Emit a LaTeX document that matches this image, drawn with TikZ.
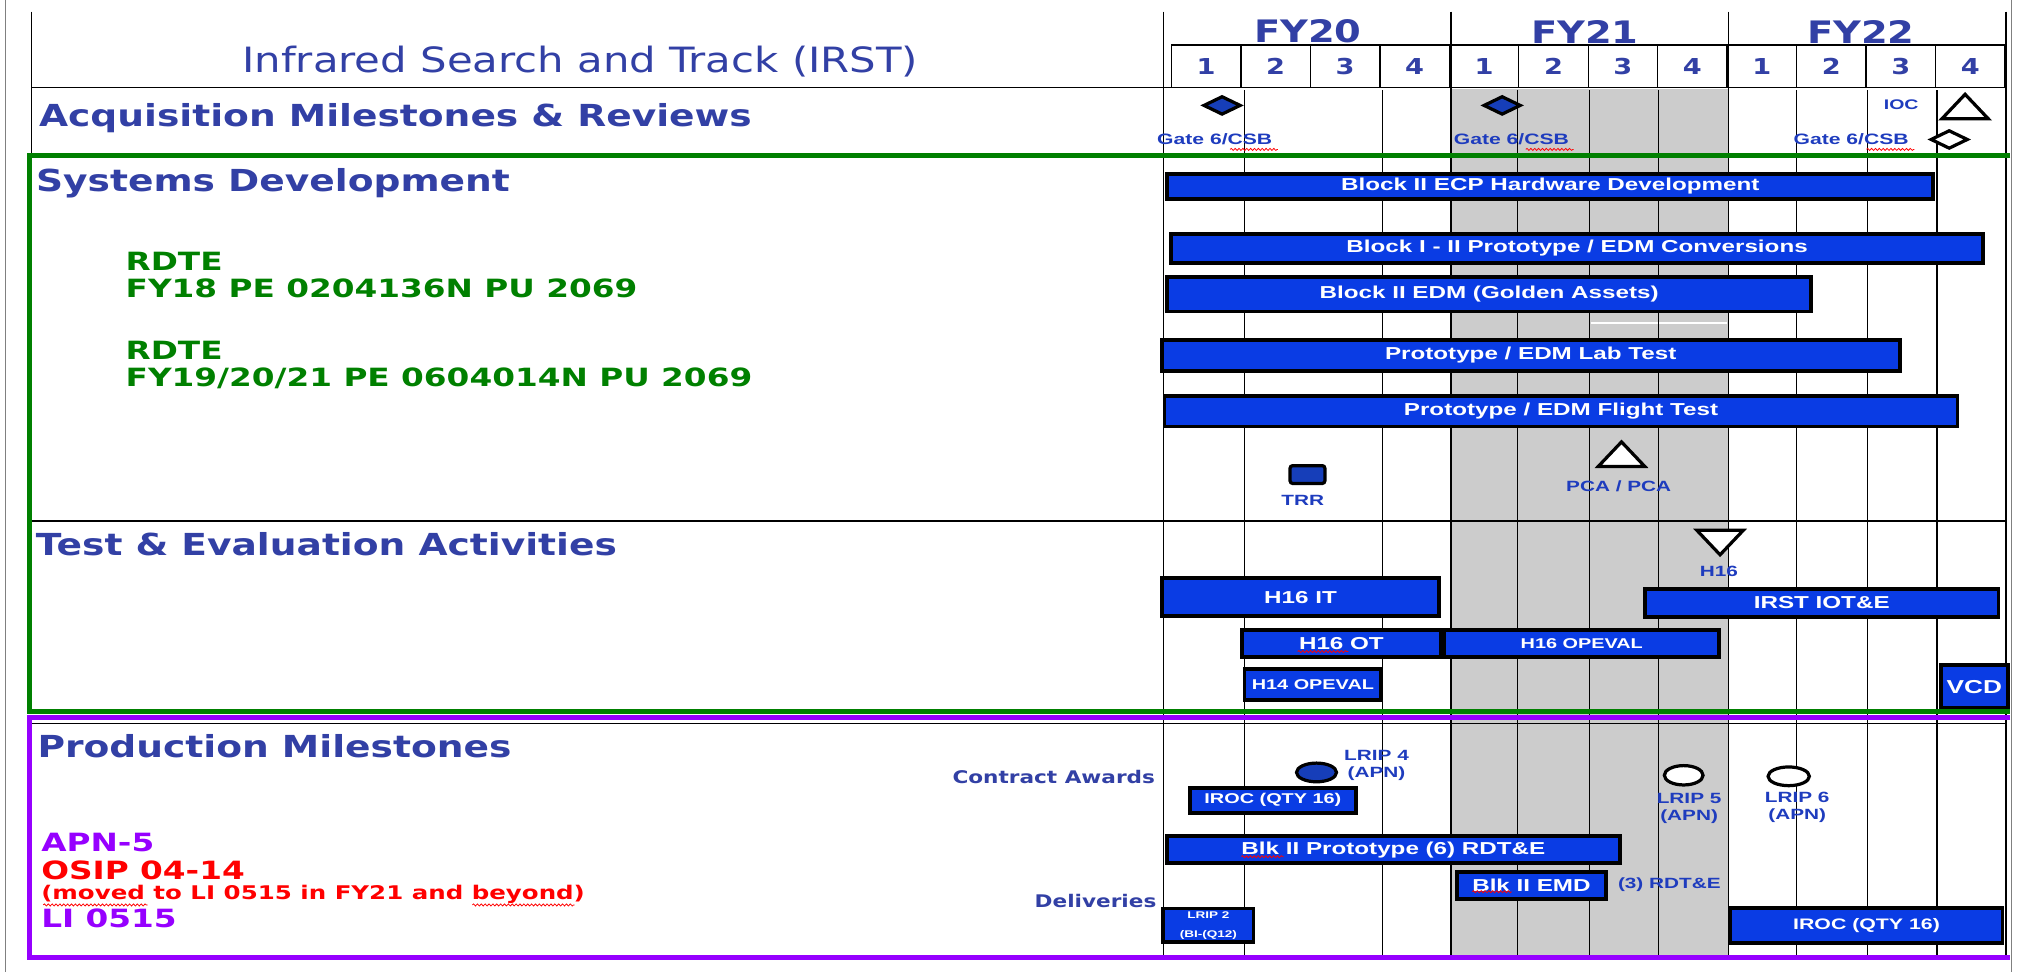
\documentclass[tikz,border=0pt]{standalone}
\usepackage{fontspec}
\usetikzlibrary{shapes.geometric}
\usetikzlibrary{decorations.pathmorphing}

\newfontfamily\headfont[FakeStretch=1.24]{DejaVu Sans}
\newfontfamily\titlefont[FakeStretch=1.2]{DejaVu Sans}
\newfontfamily\fundfont[FakeStretch=1.3]{DejaVu Sans}
\newfontfamily\barfont[FakeStretch=1.4]{Liberation Sans}

\definecolor{hdblue}{RGB}{50,64,165}
\definecolor{lblblue}{RGB}{30,60,190}
\definecolor{barblue}{RGB}{10,60,228}
\definecolor{msblue}{RGB}{22,62,185}
\definecolor{sdgreen}{RGB}{0,128,0}
\definecolor{prodpurple}{RGB}{150,0,255}
\definecolor{fygray}{RGB}{204,204,204}

\begin{document}
\begin{tikzpicture}[x=1pt,y=-1pt,
  gridline/.style={draw=black, line width=1pt},
  qcell/.style={draw=black, line width=1pt, minimum width=53.8pt, minimum height=32.8pt, inner sep=0pt, text=hdblue, font=\headfont\bfseries\fontsize{17}{19}\selectfont},
  heading/.style={anchor=west, inner sep=0pt, text=hdblue, font=\headfont\bfseries\fontsize{23.5}{25}\selectfont},
  fund/.style={anchor=west, inner sep=0pt, font=\fundfont\bfseries\fontsize{19.5}{21}\selectfont},
  gbar/.style={draw=black, line width=3pt, fill=barblue, text=white, inner sep=0pt, font=\barfont\bfseries\fontsize{13.4}{15}\selectfont},
  smallbar/.style={gbar, font=\barfont\bfseries\fontsize{11}{13}\selectfont},
  lbl/.style={inner sep=0pt, text=lblblue, align=center, font=\barfont\bfseries\fontsize{11.5}{13.2}\selectfont},
  gate/.style={inner sep=0pt, text=lblblue, font=\barfont\bfseries\fontsize{11.7}{13}\selectfont},
  milestone/.style={draw=black, line width=2.5pt, fill=msblue, inner sep=0pt},
  squiggle/.style={draw=red, line width=0.6pt, decorate, decoration={snake, amplitude=0.8pt, segment length=3pt}},
]
\useasboundingbox (0,0) rectangle (1568,753.4);

% FY21 shading
\fill [fygray] (1124.7,69) rectangle (1339.8,742);
\draw [white, line width=1.5pt] (1232.8,250.1) -- (1338.4,250.1);

% page edges
\draw [gray, line width=0.8pt] (4.6,0) -- (4.6,753.4) (1559.4,0) -- (1559.4,753.4);

% table lines
\draw [gridline] (24.3,9) -- (24.3,120) (902,9) -- (902,742) (1124.7,9) -- (1124.7,742)
  (1339.8,9) -- (1339.8,742) (1554.7,9) -- (1554.7,742);
\draw [gridline] (964.5,70) -- (964.5,742) (1071.4,70) -- (1071.4,742)
  (1176.2,70) -- (1176.2,742) (1232,70) -- (1232,742) (1285.3,70) -- (1285.3,742)
  (1392.3,70) -- (1392.3,742) (1447.7,70) -- (1447.7,742) (1501.3,70) -- (1501.3,742);
\draw [gridline] (24.3,67.7) -- (1554.7,67.7) (24.3,403.9) -- (1554.7,403.9)
  (24.3,560.6) -- (1554.7,560.6);

% header
\node (title) [text=hdblue, font=\titlefont\fontsize{27}{29}\selectfont] at (449.7,47.5) {Infrared Search and Track (IRST)};
\node (fy20) [text=hdblue, font=\headfont\bfseries\fontsize{24}{26}\selectfont] at (1013.7,24.5) {FY20};
\node (fy21) [text=hdblue, font=\headfont\bfseries\fontsize{24}{26}\selectfont] at (1228.4,24.5) {FY21};
\node (fy22) [text=hdblue, font=\headfont\bfseries\fontsize{24}{26}\selectfont] at (1442.3,24.5) {FY22};
\node (q1) [qcell] at (934.9,51.3) {1};
\node (q2) [qcell] at (988.7,51.3) {2};
\node (q3) [qcell] at (1042.6,51.3) {3};
\node (q4) [qcell] at (1096.4,51.3) {4};
\node (q5) [qcell] at (1150.2,51.3) {1};
\node (q6) [qcell] at (1204.1,51.3) {2};
\node (q7) [qcell] at (1257.9,51.3) {3};
\node (q8) [qcell] at (1311.7,51.3) {4};
\node (q9) [qcell] at (1365.6,51.3) {1};
\node (q10) [qcell] at (1419.4,51.3) {2};
\node (q11) [qcell] at (1473.2,51.3) {3};
\node (q12) [qcell] at (1527.1,51.3) {4};

% row headings
\node (acq) [heading] at (30.1,91.7) {Acquisition Milestones \& Reviews};
\node (sysdev) [heading] at (27.8,142.1) {Systems Development};
\node (tne) [heading] at (27.7,421.8) {Test \& Evaluation Activities};
\node (prod) [heading] at (28.9,578.2) {Production Milestones};

\node (rdte1) [fund, text=sdgreen] at (97.2,202.3) {RDTE};
\node (pe1) [fund, text=sdgreen] at (97.2,223.5) {FY18 PE 0204136N PU 2069};
\node (rdte2) [fund, text=sdgreen] at (97.2,271.3) {RDTE};
\node (pe2) [fund, text=sdgreen] at (97.2,293.3) {FY19/20/21 PE 0604014N PU 2069};

\node (apn) [fund, text=prodpurple] at (31.8,653.1) {APN-5};
\node (osip) [fund, text=red] at (31.8,674.3) {OSIP 04-14};
\node (moved) [fund, text=red, font=\fundfont\bfseries\fontsize{14.6}{16}\selectfont] at (31.8,693.2) {(moved to LI 0515 in FY21 and beyond)};
\node (li) [fund, text=prodpurple] at (31.8,711.8) {LI 0515};

\node (awards) [anchor=east, inner sep=0pt, text=hdblue, font=\headfont\bfseries\fontsize{13.5}{15}\selectfont] at (895.4,602) {Contract Awards};
\node (deliv) [anchor=east, inner sep=0pt, text=hdblue, font=\headfont\bfseries\fontsize{13.5}{15}\selectfont] at (896.5,698.3) {Deliveries};

% acquisition milestones
\node (gate1) [milestone, diamond, minimum width=29pt, minimum height=14.5pt] at (947.2,81.7) {};
\node (gate2) [milestone, diamond, minimum width=29pt, minimum height=14.5pt] at (1164.3,81.7) {};
\node (gate3) [milestone, diamond, fill=white, minimum width=29pt, minimum height=14.5pt] at (1510.8,108.1) {};
\node (gate1txt) [gate] at (941.5,107.5) {Gate 6/CSB};
\node (gate2txt) [gate] at (1171.5,107.5) {Gate 6/CSB};
\node (gate3txt) [gate] at (1434.8,107.5) {Gate 6/CSB};
\node (ioctxt) [lbl, font=\barfont\bfseries\fontsize{10.8}{12}\selectfont] at (1473.6,81.4) {IOC};
\coordinate (ioc) at (1523.1,82.6);
\draw [milestone, fill=white] (ioc) ++(0,-9.5) -- ++(18,19) -- ++(-36,0) -- cycle;

% systems development
\node (ecp) [gbar, minimum width=593.8pt, minimum height=19.4pt] at (1201.6,144.3) {Block II ECP Hardware Development};
\node (conv) [gbar, minimum width=629pt, minimum height=22.8pt] at (1222.4,192.5) {Block I - II Prototype / EDM Conversions};
\node (golden) [gbar, minimum width=499pt, minimum height=26.7pt] at (1154.2,228.1) {Block II EDM (Golden Assets)};
\node (lab) [gbar, minimum width=572pt, minimum height=24.2pt] at (1186.4,275.3) {Prototype / EDM Lab Test};
\node (flight) [gbar, minimum width=614.6pt, minimum height=23.3pt] at (1209.9,318.9) {Prototype / EDM Flight Test};
\node (trr) [milestone, rounded corners=2pt, minimum width=27pt, minimum height=13.8pt] at (1013.4,367.8) {};
\node (trrtxt) [lbl] at (1009.8,387.5) {TRR};
\coordinate (pca) at (1256.8,352);
\draw [milestone, fill=white] (pca) ++(0,-9.5) -- ++(18,19) -- ++(-36,0) -- cycle;
\node (pcatxt) [lbl] at (1254.6,377.2) {PCA / PCA};

% test and evaluation
\coordinate (h16) at (1333.2,420.5);
\draw [milestone, fill=white] (h16) ++(0,9.5) -- ++(18,-19) -- ++(-36,0) -- cycle;
\node (h16txt) [lbl] at (1332.3,442.5) {H16};
\node (h16it) [gbar, minimum width=215pt, minimum height=29.8pt] at (1008,462.8) {H16 IT};
\node (iot) [gbar, minimum width=274pt, minimum height=22.3pt] at (1412,467.4) {IRST IOT\&E};
\node (h16ot) [gbar, minimum width=153.7pt, minimum height=20.7pt] at (1039.7,498.9) {H16 OT};
\node (h16op) [smallbar, minimum width=213pt, minimum height=20.7pt] at (1226,498.9) {H16 OPEVAL};
\node (h14op) [smallbar, minimum width=106pt, minimum height=24.6pt] at (1017.6,530.5) {H14 OPEVAL};
\node (vcd) [gbar, minimum width=52.4pt, minimum height=33.2pt, font=\barfont\bfseries\fontsize{14.5}{16}\selectfont] at (1530.3,532.2) {VCD};

% production
\node (lrip4) [milestone, ellipse, minimum width=31pt, minimum height=14.5pt] at (1020.4,598.7) {};
\node (lrip4txt) [lbl] at (1066.9,593.6) {LRIP 4\\(APN)};
\node (lrip5) [milestone, ellipse, fill=white, minimum width=30pt, minimum height=15pt] at (1305,600.9) {};
\node (lrip5txt) [lbl] at (1309.2,626.8) {LRIP 5\\(APN)};
\node (lrip6) [milestone, ellipse, fill=white, minimum width=32pt, minimum height=14.5pt] at (1386.4,601.7) {};
\node (lrip6txt) [lbl] at (1393,625.9) {LRIP 6\\(APN)};
\node (iroc1) [smallbar, minimum width=128.8pt, minimum height=19.7pt] at (986.6,620.3) {IROC (QTY 16)};
\node (proto6) [gbar, minimum width=350.6pt, minimum height=20.7pt] at (1080,658.5) {Blk II Prototype (6) RDT\&E};
\node (emd) [gbar, minimum width=114.9pt, minimum height=20.8pt] at (1187,686.2) {Blk II EMD};
\node (rdte3) [lbl] at (1293.9,685.9) {(3) RDT\&E};
\node (lrip2) [gbar, align=center, minimum width=69.9pt, minimum height=26pt, font=\barfont\bfseries\fontsize{7.5}{14.5}\selectfont] at (936.6,717.2) {LRIP 2\\(BI-(Q12)};
\node (iroc2) [smallbar, minimum width=210.8pt, minimum height=27.2pt, font=\barfont\bfseries\fontsize{11.8}{13}\selectfont] at (1446.7,717.3) {IROC (QTY 16)};

% spelling marks
\draw [squiggle] (953.4,115.8) -- (990.5,115.8);
\draw [squiggle] (1182.6,115.8) -- (1219.7,115.8);
\draw [squiggle] (1446.7,115.8) -- (1483.8,115.8);
\draw [squiggle] (1005.8,505) -- (1045.1,505);
\draw [squiggle] (962.2,664) -- (994.9,664);
\draw [squiggle] (1141.1,691.1) -- (1171.7,691.1);
\draw [squiggle] (33.5,701.4) -- (114.5,701.4);
\draw [squiggle] (366.1,701.4) -- (445.4,701.4);

% section frames
\draw [sdgreen, line width=4pt] (1558,120.5) -- (23.1,120.5) -- (23.1,551.6) -- (1558,551.6);
\draw [prodpurple, line width=4pt] (1558,556) -- (23.1,556) -- (23.1,742) -- (1558,742);
\end{tikzpicture}
\end{document}
